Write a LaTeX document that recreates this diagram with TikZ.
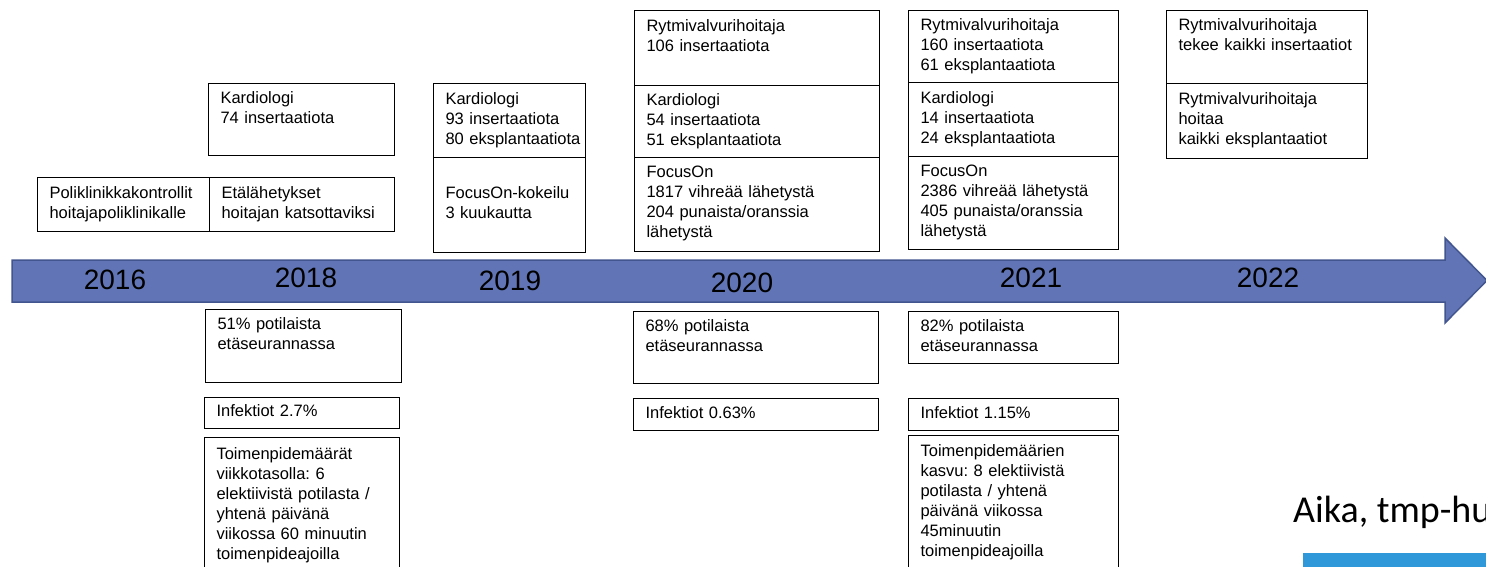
\documentclass[tikz,border=0pt]{standalone}
\usepackage{fontspec}
\setmainfont{Liberation Sans}
\newfontfamily\calibrifont{Carlito}
\hyphenpenalty=10000
\exhyphenpenalty=10000
\hfuzz=20pt
\frenchspacing
\definecolor{arrowfill}{HTML}{6175B6}
\definecolor{arrowline}{HTML}{42558F}
\definecolor{barblue}{HTML}{2F98D8}
\newcommand\bxstrut{\rule[-5pt]{0pt}{15.5pt}}
\begin{document}
\frenchspacing
\begin{tikzpicture}[x=1pt,y=-1pt,
  box/.style={draw=black, line width=1.1pt, anchor=north west, rectangle,
    inner xsep=12pt, inner ysep=0pt, align=left,
    font=\fontsize{16.5}{20}\selectfont\frenchspacing,
    execute at begin node=\bxstrut, execute at end node=\bxstrut},
  year/.style={font=\fontsize{28}{32}\selectfont, inner sep=0pt}]
\useasboundingbox (0,0) rectangle (1486,567);

% timeline arrow
\path[fill=arrowfill, draw=arrowline, line width=1.5pt, line join=miter]
  (12,260) -- (1445,260) -- (1445,238) -- (1487,280.5) -- (1445,323)
  -- (1445,302) -- (12,302) -- cycle;
\node[year] (y2016) at (115,280) {2016};
\node[year] (y2018) at (306,278) {2018};
\node[year] (y2019) at (510,281) {2019};
\node[year] (y2020) at (742,283) {2020};
\node[year] (y2021) at (1031,278) {2021};
\node[year] (y2022) at (1268,278) {2022};

% upper boxes
\node[box, minimum width=186, text width=162, minimum height=72] (k74) at (208,83) {Kardiologi\\74 insertaatiota\\{}};
\node[box, minimum width=172, text width=148, minimum height=54] (poli) at (37,177) {Poliklinikkakontrollit\\hoitajapoliklinikalle};
\node[box, minimum width=185, text width=161, minimum height=54] (eta) at (209,177) {Etälähetykset\\hoitajan katsottaviksi};
\node[box, minimum width=152, text width=128, minimum height=74] (k93) at (433,83) {Kardiologi\\93~insertaatiota\\80~eksplantaatiota};
\node[box, minimum width=152, text width=128, minimum height=95] (fok) at (433,157) {FocusOn-kokeilu\\3 kuukautta};

\node[box, minimum width=245, text width=221, minimum height=75] (r106) at (634,10) {Rytmivalvurihoitaja\\106 insertaatiota\\{}};
\node[box, minimum width=245, text width=221, minimum height=72] (k54) at (634,85) {Kardiologi\\54 insertaatiota\\51 eksplantaatiota};
\node[box, minimum width=245, text width=221, minimum height=94] (fo20) at (634,157) {FocusOn\\1817 vihreää lähetystä\\204 punaista/oranssia\\lähetystä};

\node[box, minimum width=210, text width=186, minimum height=72] (r160) at (908,10) {Rytmivalvurihoitaja\\160 insertaatiota\\61 eksplantaatiota};
\node[box, minimum width=210, text width=186, minimum height=74] (k14) at (908,82) {Kardiologi\\14 insertaatiota\\24 eksplantaatiota};
\node[box, minimum width=210, text width=186, minimum height=93] (fo21) at (908,156) {FocusOn\\2386 vihreää lähetystä\\405 punaista/oranssia\\lähetystä};

\node[box, minimum width=201, text width=177, minimum height=73] (r22a) at (1166,10) {Rytmivalvurihoitaja\\tekee~kaikki~insertaatiot\\{}};
\node[box, minimum width=201, text width=177, minimum height=75] (r22b) at (1166,83) {Rytmivalvurihoitaja\\hoitaa\\kaikki eksplantaatiot};

% lower boxes
\node[box, minimum width=196, text width=172, minimum height=73] (p51) at (205,309) {51\% potilaista\\etäseurannassa\\{}};
\node[box, minimum width=195, text width=171, minimum height=31] (i27) at (204,397) {Infektiot 2.7\%};
\node[box, minimum width=195, text width=171, minimum height=136] (t1) at (204,437) {Toimenpidemäärät\\viikkotasolla: 6\\elektiivistä potilasta /\\yhtenä päivänä\\viikossa 60 minuutin\\toimenpideajoilla};

\node[box, minimum width=245, text width=221, minimum height=72] (p68) at (633,311) {68\% potilaista\\etäseurannassa\\{}};
\node[box, minimum width=245, text width=221, minimum height=32] (i063) at (633,398) {Infektiot 0.63\%};

\node[box, minimum width=210, text width=186, minimum height=52] (p82) at (908,311) {82\% potilaista\\etäseurannassa};
\node[box, minimum width=210, text width=186, minimum height=32] (i115) at (908,398) {Infektiot 1.15\%};
\node[box, minimum width=210, text width=186, minimum height=135] (t2) at (908,435) {Toimenpidemäärien\\kasvu: 8 elektiivistä\\potilasta / yhtenä\\päivänä viikossa\\45minuutin\\toimenpideajoilla};

% bottom right fragment (cut off at the right edge, as in the reference)
\node[font=\calibrifont\fontsize{38}{44}\selectfont, anchor=base west, inner sep=0pt] (aika) at (1293,522) {Aika, tmp-hu};
\fill[barblue] (1303,553) rectangle (1490,570);
\end{tikzpicture}
\end{document}
